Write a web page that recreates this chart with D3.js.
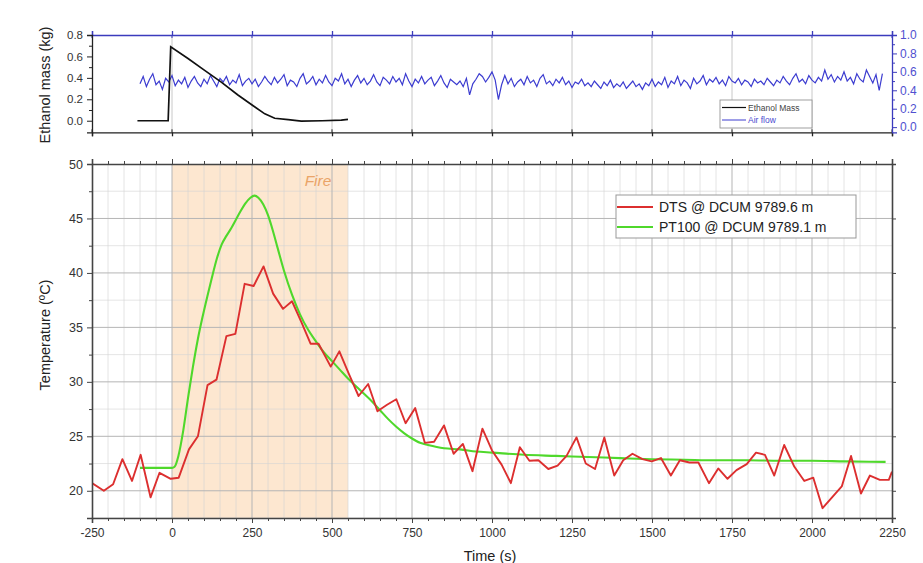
<!DOCTYPE html>
<html><head><meta charset="utf-8">
<script src="https://cdn.jsdelivr.net/npm/d3@7"></script>
<style>
html,body{margin:0;padding:0;background:#fff;}
svg{display:block;font-family:"Liberation Sans",Arial,sans-serif;}
</style></head>
<body><svg id="c" width="923" height="563"></svg>
<script>
// ---------------- DATA ----------------
const xTicks = [-250,0,250,500,750,1000,1250,1500,1750,2000,2250];
const tempTicks = [20,25,30,35,40,45,50];
const massTicks = [0.0,0.2,0.4,0.6,0.8];
const flowTicks = [0.0,0.2,0.4,0.6,0.8,1.0];
const fireStart = 0, fireEnd = 550;

const dtsTime = [-250,-213,-184,-155,-125,-98,-67,-39,-4,21,53,81,111,139,170,198,227,255,286,316,347,375,404,433,458,496,523,553,583,613,642,672,701,730,760,790,819,850,880,909,939,970,1000,1030,1059,1087,1117,1145,1176,1205,1233,1264,1293,1322,1351,1382,1410,1439,1470,1499,1528,1559,1587,1617,1645,1678,1707,1736,1764,1796,1825,1853,1882,1913,1945,1976,2004,2033,2064,2093,2122,2153,2181,2212,2240,2250];
const dtsTemp = [20.7,20.0,20.6,22.9,20.9,23.3,19.4,21.65,21.1,21.2,23.8,25.0,29.7,30.2,34.2,34.4,39.0,38.8,40.6,38.1,36.7,37.4,35.5,33.5,33.5,31.4,32.8,30.7,28.7,29.8,27.3,27.9,28.4,26.2,27.6,24.4,24.5,26.0,23.4,24.3,21.8,25.7,23.7,22.4,20.7,24.0,22.75,22.8,22.0,22.3,23.2,24.9,22.5,22.0,24.9,21.4,22.8,23.4,22.9,22.7,23.0,21.4,22.8,22.6,22.6,20.7,22.05,21.1,21.9,22.45,23.5,23.3,21.4,24.2,22.2,20.9,21.2,18.4,19.45,20.4,23.2,19.75,21.4,21.0,21.0,21.75];

const ptTime = [-100,0,8,20,35,50,65,80,95,110,125,140,155,170,185,200,215,230,245,258,270,285,300,315,330,350,375,400,425,450,475,500,525,550,575,600,625,650,675,700,725,750,775,800,850,900,950,1000,1100,1200,1300,1400,1500,1600,1700,1800,1900,2000,2100,2230];
const ptTemp = [22.1,22.1,22.2,23.2,25.5,28.5,31.3,33.8,35.9,37.8,39.6,41.3,42.6,43.4,44.1,44.9,45.7,46.4,46.9,47.1,46.9,46.3,45.3,43.9,42.3,40.2,38.0,36.2,34.8,33.7,32.7,31.9,31.1,30.3,29.6,28.9,28.2,27.4,26.6,25.9,25.3,24.8,24.4,24.2,23.9,23.8,23.6,23.5,23.3,23.2,23.1,23.0,22.9,22.85,22.8,22.8,22.75,22.75,22.7,22.65];

const massTime = [-108,-12,-4,50,102,154,206,258,290,321,363,404,470,529,550];
const massKg   = [0.0,0.0,0.69,0.58,0.47,0.36,0.24,0.13,0.064,0.023,0.01,-0.003,0.0,0.005,0.013];

const flowStart = -100, flowStep = 10;
const flowValues = [
0.47,0.55,0.44,0.52,0.58,0.46,0.50,0.41,0.53,0.49,0.56,0.45,0.51,0.47,0.54,0.43,0.50,0.55,0.48,0.44,
0.52,0.47,0.56,0.50,0.44,0.53,0.49,0.55,0.46,0.51,0.48,0.57,0.45,0.50,0.53,0.47,0.52,0.44,0.49,0.55,
0.50,0.46,0.54,0.48,0.52,0.57,0.45,0.51,0.49,0.44,0.53,0.58,0.47,0.50,0.55,0.46,0.52,0.48,0.56,0.49,
0.45,0.53,0.50,0.58,0.47,0.52,0.44,0.51,0.56,0.48,0.53,0.46,0.50,0.57,0.49,0.45,0.54,0.51,0.47,0.55,
0.49,0.53,0.46,0.58,0.50,0.44,0.52,0.48,0.55,0.47,0.51,0.54,0.45,0.50,0.56,0.48,0.43,0.52,0.49,0.46,
0.50,0.44,0.53,0.35,0.47,0.52,0.58,0.55,0.49,0.54,0.60,0.51,0.30,0.46,0.56,0.47,0.53,0.44,0.49,0.52,
0.46,0.55,0.48,0.51,0.44,0.53,0.57,0.47,0.50,0.45,0.52,0.48,0.54,0.46,0.50,0.43,0.49,0.47,0.52,0.45,
0.48,0.44,0.50,0.46,0.42,0.49,0.45,0.51,0.43,0.47,0.44,0.49,0.42,0.46,0.50,0.44,0.47,0.41,0.48,0.45,
0.52,0.44,0.49,0.46,0.54,0.43,0.50,0.47,0.55,0.45,0.51,0.48,0.42,0.53,0.47,0.50,0.56,0.46,0.52,0.49,
0.54,0.47,0.51,0.45,0.55,0.50,0.48,0.53,0.46,0.51,0.49,0.44,0.52,0.48,0.50,0.46,0.53,0.49,0.45,0.51,
0.48,0.55,0.50,0.46,0.53,0.58,0.49,0.52,0.47,0.56,0.51,0.48,0.54,0.50,0.62,0.52,0.57,0.49,0.55,0.51,
0.60,0.50,0.54,0.47,0.58,0.52,0.49,0.62,0.55,0.48,0.57,0.40,0.58];

// ---------------- LAYOUT ----------------
const svg = d3.select("#c");
const L = 92, R = 892;
const topT = 35, topB = 132.3;
const mainT = 164, mainB = 518;

const x = d3.scaleLinear().domain([-250,2250]).range([L,R]);
const yMass = d3.scaleLinear().domain([-0.108,0.8]).range([topB,topT]);
const yFlow = d3.scaleLinear().domain([-0.056,1.0]).range([topB,topT]);
const yT = d3.scaleLinear().domain([17.5,50]).range([mainB,mainT]);

const blue = "#3b3bbd";
const axisCol = "#444";
const plainInt = d => String(d);

// clip paths
const defs = svg.append("defs");
defs.append("clipPath").attr("id","clipTop").append("rect")
  .attr("x",L).attr("y",topT).attr("width",R-L).attr("height",topB-topT);
defs.append("clipPath").attr("id","clipMain").append("rect")
  .attr("x",L).attr("y",mainT).attr("width",R-L).attr("height",mainB-mainT);

// ============ TOP PANEL ============
const gTop = svg.append("g");
gTop.append("g").selectAll("line").data(xTicks.slice(1,-1)).join("line")
  .attr("x1",d=>x(d)).attr("x2",d=>x(d)).attr("y1",topT).attr("y2",topB)
  .attr("stroke","#c8c8c8").attr("stroke-width",1);

const topClip = gTop.append("g").attr("clip-path","url(#clipTop)");
const flowData = flowValues.map((v,i)=>[flowStart+i*flowStep,v]);
topClip.append("path").datum(flowData)
  .attr("fill","none").attr("stroke","#3c3cd0").attr("stroke-width",1.2)
  .attr("d",d3.line().x(d=>x(d[0])).y(d=>yFlow(d[1])));
topClip.append("path").datum(massTime.map((t,i)=>[t,massKg[i]]))
  .attr("fill","none").attr("stroke","#111").attr("stroke-width",1.7)
  .attr("d",d3.line().x(d=>x(d[0])).y(d=>yMass(d[1])));

const axTopBottom = gTop.append("g").attr("transform",`translate(0,${topB})`)
  .call(d3.axisBottom(x).tickValues(xTicks).tickSize(4).tickFormat(""));
const axTopTop = gTop.append("g").attr("transform",`translate(0,${topT})`)
  .call(d3.axisTop(x).tickValues(xTicks).tickSize(4).tickFormat(""));
gTop.append("g").selectAll("line").data(xTicks).join("line")
  .attr("x1",d=>x(d)).attr("x2",d=>x(d)).attr("y1",topT).attr("y2",topT+3).attr("stroke",blue);
gTop.append("g").selectAll("line").data(xTicks).join("line")
  .attr("x1",d=>x(d)).attr("x2",d=>x(d)).attr("y1",topB).attr("y2",topB-3).attr("stroke","#222");
axTopBottom.selectAll("path,line").attr("stroke","#222").attr("stroke-width",1.3);
axTopTop.selectAll("path,line").attr("stroke",blue).attr("stroke-width",1.3);

const axMass = gTop.append("g").attr("transform",`translate(${L},0)`)
  .call(d3.axisLeft(yMass).tickValues(massTicks).tickSize(5).tickPadding(4).tickFormat(d3.format(".1f")));
axMass.select(".domain").attr("stroke","#222").attr("stroke-width",1.3);
axMass.selectAll(".tick line").attr("stroke","#222");
axMass.selectAll("text").attr("font-size",11.5).attr("fill","#333");
gTop.append("g").attr("transform",`translate(${L},0)`)
  .call(d3.axisLeft(yMass).tickValues([0.1,0.3,0.5,0.7]).tickSize(3).tickFormat(""))
  .call(g=>{g.select(".domain").remove(); g.selectAll("line").attr("stroke","#222");});

const axFlow = gTop.append("g").attr("transform",`translate(${R},0)`)
  .call(d3.axisRight(yFlow).tickValues(flowTicks).tickSize(5).tickPadding(3).tickFormat(d3.format(".1f")));
axFlow.select(".domain").attr("stroke",blue).attr("stroke-width",1.3);
axFlow.selectAll(".tick line").attr("stroke",blue);
axFlow.selectAll("text").attr("font-size",12).attr("fill","#5050d0");
gTop.append("g").attr("transform",`translate(${R},0)`)
  .call(d3.axisRight(yFlow).tickValues([0.1,0.3,0.5,0.7,0.9]).tickSize(3).tickFormat(""))
  .call(g=>{g.select(".domain").remove(); g.selectAll("line").attr("stroke",blue);});

svg.append("text").attr("transform","translate(50,85) rotate(-90)")
  .attr("text-anchor","middle").attr("font-size",14.5).attr("fill","#222")
  .text("Ethanol mass (kg)");

const lg1 = svg.append("g");
lg1.append("rect").attr("x",720).attr("y",100).attr("width",92).attr("height",28)
  .attr("fill","#fff").attr("stroke","#888").attr("stroke-width",0.8);
lg1.append("line").attr("x1",722).attr("x2",746).attr("y1",107.5).attr("y2",107.5).attr("stroke","#111").attr("stroke-width",1.2);
lg1.append("line").attr("x1",722).attr("x2",746).attr("y1",120).attr("y2",120).attr("stroke","#3c3cd0").attr("stroke-width",1);
lg1.append("text").attr("x",748).attr("y",110.5).attr("font-size",8.5).attr("fill","#444").text("Ethanol Mass");
lg1.append("text").attr("x",748).attr("y",123).attr("font-size",8.5).attr("fill","#4a4ad0").text("Air flow");

// ============ MAIN PANEL ============
const gM = svg.append("g");
gM.append("rect").attr("x",x(fireStart)).attr("y",mainT)
  .attr("width",x(fireEnd)-x(fireStart)).attr("height",mainB-mainT)
  .attr("fill","#fde7d0");
const minorX = d3.range(-250,2251,50).filter(v=>v%250!==0);
const minorY = d3.range(17.5,50.01,2.5).filter(v=>v%5!==0);
gM.append("g").selectAll("line").data(minorX).join("line")
  .attr("x1",d=>x(d)).attr("x2",d=>x(d)).attr("y1",mainT).attr("y2",mainB)
  .attr("stroke","#d4d4d4").attr("stroke-opacity",0.6).attr("stroke-width",1);
gM.append("g").selectAll("line").data(minorY).join("line")
  .attr("y1",d=>yT(d)).attr("y2",d=>yT(d)).attr("x1",L).attr("x2",R)
  .attr("stroke","#d4d4d4").attr("stroke-opacity",0.6).attr("stroke-width",1);
gM.append("g").selectAll("line").data(xTicks.slice(1,-1)).join("line")
  .attr("x1",d=>x(d)).attr("x2",d=>x(d)).attr("y1",mainT).attr("y2",mainB)
  .attr("stroke","#b5b5b5").attr("stroke-width",1);
gM.append("g").selectAll("line").data(tempTicks.slice(0,-1)).join("line")
  .attr("y1",d=>yT(d)).attr("y2",d=>yT(d)).attr("x1",L).attr("x2",R)
  .attr("stroke","#b5b5b5").attr("stroke-width",1);

gM.append("text").attr("x",318).attr("y",186).attr("font-size",15.5)
  .attr("font-style","italic").attr("fill","#eaa468").attr("text-anchor","middle").text("Fire");

const mc = gM.append("g").attr("clip-path","url(#clipMain)");
mc.append("path").datum(ptTime.map((t,i)=>[t,ptTemp[i]]))
  .attr("fill","none").attr("stroke","#4fd82b").attr("stroke-width",2.1)
  .attr("stroke-linejoin","round")
  .attr("d",d3.line().curve(d3.curveMonotoneX).x(d=>x(d[0])).y(d=>yT(d[1])));
mc.append("path").datum(dtsTime.map((t,i)=>[t,dtsTemp[i]]))
  .attr("fill","none").attr("stroke","#dc2f2f").attr("stroke-width",1.9)
  .attr("stroke-linejoin","round").attr("d",d3.line().x(d=>x(d[0])).y(d=>yT(d[1])));

const axB = gM.append("g").attr("transform",`translate(0,${mainB})`)
  .call(d3.axisBottom(x).tickValues(xTicks).tickSize(5).tickPadding(5).tickFormat(plainInt));
axB.selectAll("text").attr("font-size",12).attr("fill","#333");
gM.append("g").attr("transform",`translate(0,${mainB})`)
  .call(d3.axisBottom(x).tickValues(minorX).tickSize(3).tickFormat(""))
  .call(g=>g.select(".domain").remove());
gM.append("g").attr("transform",`translate(0,${mainT})`)
  .call(d3.axisTop(x).tickValues(xTicks).tickSize(5).tickFormat(""));
gM.append("g").attr("transform",`translate(0,${mainT})`)
  .call(d3.axisTop(x).tickValues(minorX).tickSize(3).tickFormat(""))
  .call(g=>g.select(".domain").remove());
const axL = gM.append("g").attr("transform",`translate(${L},0)`)
  .call(d3.axisLeft(yT).tickValues(tempTicks).tickSize(5).tickPadding(4).tickFormat(plainInt));
axL.selectAll("text").attr("font-size",12.5).attr("fill","#333");
gM.append("g").attr("transform",`translate(${L},0)`)
  .call(d3.axisLeft(yT).tickValues(minorY).tickSize(3).tickFormat(""))
  .call(g=>g.select(".domain").remove());
gM.append("g").attr("transform",`translate(${R},0)`)
  .call(d3.axisRight(yT).tickValues(tempTicks).tickSize(4).tickFormat(""));
gM.selectAll(".domain").attr("stroke",axisCol).attr("stroke-width",1.6);
gM.selectAll(".tick line").attr("stroke",axisCol).attr("stroke-width",1);

svg.append("text").attr("x",490).attr("y",561).attr("text-anchor","middle")
  .attr("font-size",14.5).attr("fill","#222").text("Time (s)");
svg.append("text").attr("transform","translate(50,335) rotate(-90)")
  .attr("text-anchor","middle").attr("font-size",14.5).attr("fill","#222")
  .text("Temperature (ºC)");

const lg2 = svg.append("g");
lg2.append("rect").attr("x",616).attr("y",195).attr("width",240).attr("height",43)
  .attr("fill","#fff").attr("stroke","#999").attr("stroke-width",1);
lg2.append("line").attr("x1",617).attr("x2",653).attr("y1",207).attr("y2",207).attr("stroke","#dc2f2f").attr("stroke-width",2);
lg2.append("line").attr("x1",617).attr("x2",653).attr("y1",227).attr("y2",227).attr("stroke","#4fd82b").attr("stroke-width",2);
lg2.append("text").attr("x",659).attr("y",212).attr("font-size",14).attr("fill","#222").text("DTS @ DCUM 9789.6 m");
lg2.append("text").attr("x",659).attr("y",232).attr("font-size",14).attr("fill","#222").text("PT100 @ DCUM 9789.1 m");
</script>
</body></html>
